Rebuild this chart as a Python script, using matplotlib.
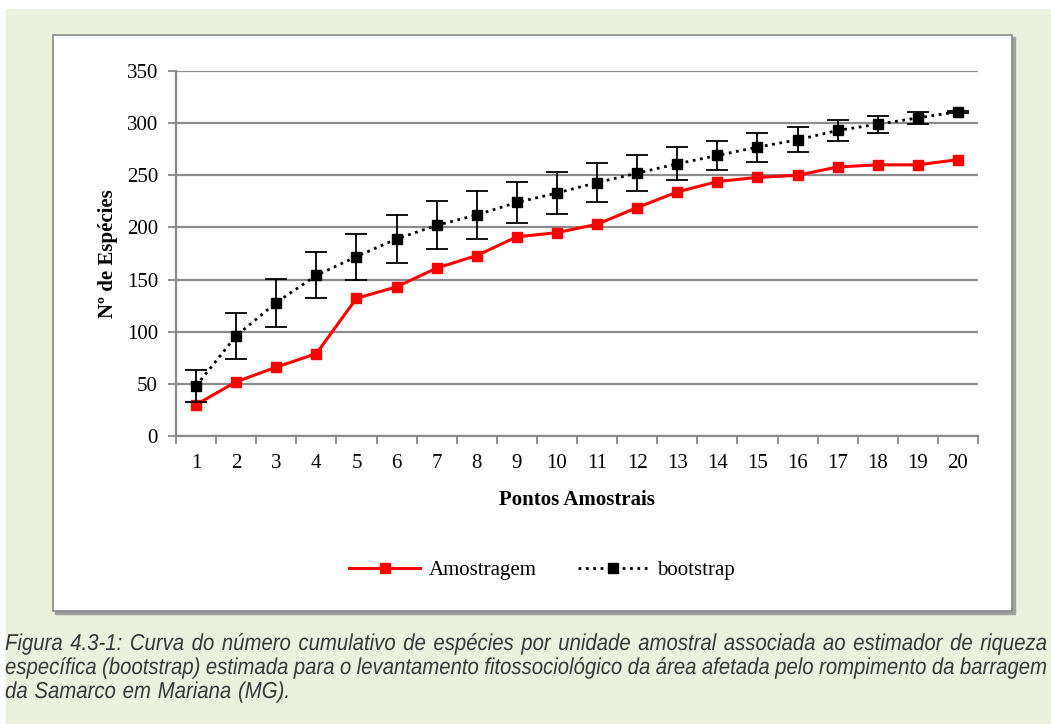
import matplotlib
matplotlib.use("Agg")
import matplotlib.pyplot as plt
from matplotlib.patches import Rectangle, PathPatch
from matplotlib.textpath import TextPath
from matplotlib.font_manager import FontProperties
from matplotlib.transforms import Affine2D, IdentityTransform
import numpy as np

# data
pontos = np.arange(1, 21)
amostragem = [30, 52, 66, 79, 132, 143, 161, 173, 191, 195, 203, 219, 234, 244, 248, 250, 258, 260, 260, 265]
bootstrap = [48, 96, 128, 154, 172, 189, 202, 212, 224, 233, 243, 252, 261, 269, 277, 284, 293, 299, 305, 311]
bootstrap_err = [15, 22, 23, 22, 22, 23, 23, 23, 20, 20, 19, 17, 16, 14, 14, 12, 10, 8, 6, 1]
yticks = [0, 50, 100, 150, 200, 250, 300, 350]

caption_lines = [
    "Figura 4.3-1: Curva do número cumulativo de espécies por unidade amostral associada ao estimador de riqueza",
    "específica (bootstrap) estimada para o levantamento fitossociológico da área afetada pelo rompimento da barragem",
    "da Samarco em Mariana (MG).",
]

W, H = 1051, 724
fig = plt.figure(figsize=(W / 100, H / 100), dpi=100)
fig.patch.set_facecolor("white")

def px(x, y, w, h):
    # pixel box (top-left origin) -> figure fraction
    return (x / W, 1 - (y + h) / H, w / W, h / H)

# green page background + white chart box with shadow
x0, y0, w0, h0 = px(6, 9, W - 6, H - 9)
fig.patches.append(Rectangle((x0, y0), w0, h0, transform=fig.transFigure, color="#eaf1dd", zorder=0))
x1, y1, w1, h1 = px(55, 37, 960, 577)
fig.patches.append(Rectangle((x1, y1), w1, h1, transform=fig.transFigure, color="#a0a0a0", zorder=0.5))
x1, y1, w1, h1 = px(53, 35, 959, 576)
fig.patches.append(Rectangle((x1, y1), w1, h1, transform=fig.transFigure, facecolor="white",
                             edgecolor="#8a8a8a", lw=1.2, zorder=1))

serif = ["Liberation Serif", "DejaVu Serif"]
fs = 15
ax = fig.add_axes([176 / W, 1 - 436 / H, (978 - 176) / W, (436 - 71) / H])
ax.set_zorder(2)
ax.patch.set_alpha(0)

ax.set_xlim(0.5, 20.5)
ax.set_ylim(0, 350)
ax.set_yticks(yticks)
ax.set_xticks(pontos)
ax.set_xticks(np.arange(0.5, 21, 1), minor=True)
ax.tick_params(axis="x", which="major", length=0, pad=13, labelsize=fs)
ax.tick_params(axis="x", which="minor", length=6, width=1.3, color="#888888", direction="out")
ax.tick_params(axis="y", length=6, width=1.3, color="#888888", pad=7, labelsize=fs)
for lab in ax.get_xticklabels() + ax.get_yticklabels():
    lab.set_family(serif)

ax.grid(axis="y", color="#8c8c8c", lw=1.6)
ax.set_axisbelow(True)
for s in ["top", "right"]:
    ax.spines[s].set_visible(False)
for s in ["left", "bottom"]:
    ax.spines[s].set_color("#888888")
    ax.spines[s].set_linewidth(1.6)

ax.plot(pontos, amostragem, color="#ff0000", lw=2.2, marker="s", ms=7.5, mec="#ff0000",
        label="Amostragem", zorder=3)
ax.errorbar(pontos, bootstrap, yerr=bootstrap_err, color="black", ls=":", lw=2, marker="s", ms=7,
            ecolor="black", elinewidth=1.3, capsize=8, capthick=1.3, label="bootstrap", zorder=4)

ax.set_xlabel("Pontos Amostrais", family=serif, fontsize=fs, fontweight="bold", labelpad=12)
ax.set_ylabel("Nº de Espécies", family=serif, fontsize=fs, fontweight="bold", labelpad=6)

h, l = ax.get_legend_handles_labels()
h = [h[0], h[1][0]]
fig.legend(h, l, loc="center", bbox_to_anchor=(542 / W, 1 - 570 / H), ncol=2, frameon=False,
           prop={"family": serif, "size": fs}, handlelength=3.4, columnspacing=2.0, handletextpad=0.4)

# caption: condensed italic sans, justified (first two lines)
fp = FontProperties(family=["Liberation Sans", "DejaVu Sans"], style="italic")
size_px = 23
cap_color = "#383838"
left, right = 5, 1047
baselines = [650, 674, 698]

def word_paths(line):
    words = line.split(" ")
    paths = [TextPath((0, 0), w, size=size_px, prop=fp) for w in words]
    bar = TextPath((0, 0), "|", size=size_px, prop=fp).get_extents().x1
    widths = [TextPath((0, 0), w + "|", size=size_px, prop=fp).get_extents().x1 - bar for w in words]
    return paths, widths

space_nat = TextPath((0, 0), "a a", size=size_px, prop=fp).get_extents().width - \
    2 * TextPath((0, 0), "a", size=size_px, prop=fp).get_extents().width

# horizontal squeeze calibrated on the last (non-justified) line, which spans ~285 px
_, w3 = word_paths(caption_lines[2])
sx = 285 / (sum(w3) + space_nat * (len(w3) - 1))

for i, line in enumerate(caption_lines):
    paths, widths = word_paths(line)
    ybase = H - baselines[i]
    if i < 2:
        gap = ((right - left) / sx - sum(widths)) / (len(paths) - 1)
    else:
        gap = space_nat
    x = 0.0
    for p, wd in zip(paths, widths):
        tr = Affine2D().translate(x, 0).scale(sx, 1).translate(left, ybase)
        fig.patches.append(PathPatch(tr.transform_path(p), facecolor=cap_color, edgecolor="none",
                                     transform=IdentityTransform()))
        x += wd + gap

fig.savefig("out.png", dpi=100, facecolor=fig.get_facecolor())
